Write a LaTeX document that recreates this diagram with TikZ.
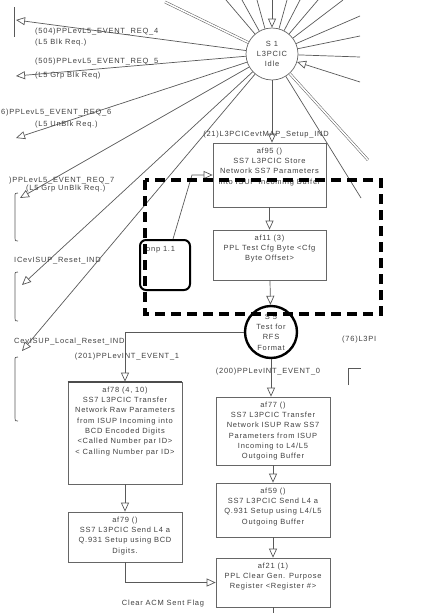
\documentclass[tikz,border=0pt]{standalone}
\usepackage{fontspec}
\setmainfont[LetterSpace=10]{Liberation Sans}
\usetikzlibrary{
  arrows.meta,   % open triangle tips
  positioning,   % text inside boxes
  calc
}
\newcommand{\dfont}{\fontsize{7.5}{10.3}\selectfont}
\tikzset{
  flow/.style={
    draw=black!65,
    line width=0.7pt
  },
  tri/.style={
    flow,
    -{Triangle[length=9pt, width=8pt, fill=white]}
  },
  state/.style={
    circle,
    draw=black!60,
    line width=0.7pt,
    minimum size=52pt,
    inner sep=0pt,
    align=center,
    font=\dfont,
    text=black!75
  },
  bold state/.style={
    state,
    draw=black,
    line width=2.4pt
  },
  actbox/.style={
    draw=black!60,
    line width=0.7pt,
    minimum width=113pt,
    inner sep=0pt
  },
  boxtext/.style={
    align=center,
    font=\dfont,
    text=black!75,
    inner sep=0pt
  },
  lbl/.style={
    font=\dfont,
    text=black!75,
    inner sep=0pt
  },
  notebox/.style={
    draw=black,
    line width=2pt,
    rounded corners=6pt,
    minimum width=50pt,
    minimum height=50pt
  },
  dashbox/.style={
    draw=black,
    line width=3.5pt,
    dash pattern=on 10pt off 6pt
  }
}

\begin{document}
\begin{tikzpicture}[x=1pt, y=-1pt]
    \useasboundingbox (0,0) rectangle (426,613);

    % --- states ---
    \node[state] (S1) at (272,54) {S 1\\L3PCIC\\Idle};
    \node[bold state] (S5) at (271,332) {S 5\\Test for\\RFS\\Format};

    % --- action boxes ---
    \node[actbox, minimum height=64pt] (af95) at (269.5,175) {};
    \node[actbox, minimum height=50pt] (af11) at (269.5,255) {};
    \node[actbox, minimum width=114pt, minimum height=102pt] (af78) at (125,433) {};
    \node[actbox, minimum width=114pt, minimum height=50pt] (af79) at (125,537) {};
    \node[actbox, minimum width=114pt, minimum height=68pt] (af77) at (273,431) {};
    \node[actbox, minimum width=114pt, minimum height=54pt] (af59) at (273,510) {};
    \node[actbox, minimum width=114pt, minimum height=49pt] (af21) at (273,582.5) {};
    \draw[black!70, line width=2pt] (af78.north west) -- (af78.north east);

    \node[boxtext, below=5pt of af95.north] (af95t)
      {af95 ()\\SS7 L3PCIC Store\\Network SS7 Parameters\\into ISUP Incoming Buffer};
    \node[boxtext, below=5pt of af11.north] (af11t)
      {af11 (3)\\PPL Test Cfg Byte <Cfg\\Byte Offset>};
    \node[boxtext, below=5pt of af78.north] (af78t)
      {af78 (4, 10)\\SS7 L3PCIC Transfer\\Network Raw Parameters\\from ISUP Incoming into\\BCD Encoded Digits\\<Called Number par ID>\\< Calling Number par ID>};
    \node[boxtext, below=5pt of af79.north] (af79t)
      {af79 ()\\SS7 L3PCIC Send L4 a\\Q.931 Setup using BCD\\Digits.};
    \node[boxtext, below=5pt of af77.north] (af77t)
      {af77 ()\\SS7 L3PCIC Transfer\\Network ISUP Raw SS7\\Parameters from ISUP\\Incoming to L4/L5\\Outgoing Buffer};
    \node[boxtext, below=5pt of af59.north] (af59t)
      {af59 ()\\SS7 L3PCIC Send L4 a\\Q.931 Setup using L4/L5\\Outgoing Buffer};
    \node[boxtext, below=5pt of af21.north] (af21t)
      {af21 (1)\\PPL Clear Gen. Purpose\\Register <Register \#>};

    % --- note box ---
    \node[notebox] (onp) at (165,265) {};
    \node[lbl, below right=7pt and 7pt of onp.north west] (onpt) {onp 1.1};

    % --- lines radiating from S 1 ---
    \foreach \x/\y in {226/0, 242/0, 257/0, 287/0, 300/0, 318/0, 343/0,
                       360/16, 360/36, 360/57, 361/198}
      \draw[flow] (S1) -- (\x,\y);
    \draw[flow, double=white, double distance=1.6pt, line width=0.5pt] (S1) -- (165,2);
    \draw[flow, double=white, double distance=1.6pt, line width=0.5pt] (S1) -- (368,160);

    % incoming arrows on S 1
    \coordinate (t0) at (272,0);
    \coordinate (r4) at (360,82);
    \draw[tri] (t0) -- (S1);
    \draw[tri] (r4) -- (S1);

    % outgoing events to the left
    \coordinate (e1) at (16,20);
    \coordinate (e2) at (16,76);
    \coordinate (e3) at (16,138);
    \coordinate (e4) at (20,198);
    \coordinate (e5) at (22,285);
    \coordinate (e6) at (22,351);
    \foreach \e in {e1,e2,e3,e4,e5,e6}
      \draw[tri] (S1) -- (\e);

    % bars and brackets on the left edge
    \draw[flow] (14,7) -- (14,37);
    \draw[flow] (18,193) .. controls (15,193) .. (15,197) -- (15,238) .. controls (15,241) .. (18,241);
    \draw[flow] (18,272) .. controls (15,272) .. (15,276) -- (15,318) .. controls (15,321) .. (18,321);
    \draw[flow] (18,357) .. controls (15,357) .. (15,361) -- (15,418) .. controls (15,421) .. (18,421);

    % event labels
    \node[lbl, anchor=west] (l504) at (35,32) {(504)PPLevL5\_EVENT\_REQ\_4};
    \node[lbl, anchor=west] (l504b) at (35,43) {(L5 Blk Req.)};
    \node[lbl, anchor=west] (l505) at (35,62) {(505)PPLevL5\_EVENT\_REQ\_5};
    \node[lbl, anchor=west] (l505b) at (35,76) {(L5 Grp Blk Req)};
    \node[lbl, anchor=west] (l506) at (1,113) {6)PPLevL5\_EVENT\_REQ\_6};
    \node[lbl, anchor=west] (l506b) at (35,125) {(L5 UnBlk Req.)};
    \node[lbl, anchor=west] (l507) at (9,181) {)PPLevL5\_EVENT\_REQ\_7};
    \node[lbl, anchor=west] (l507b) at (26,189) {(L5 Grp UnBlk Req.)};
    \node[lbl, anchor=west] (lrst) at (14,261) {ICevISUP\_Reset\_IND};
    \node[lbl, anchor=west] (llrst) at (14,342) {CevISUP\_Local\_Reset\_IND};

    % --- main flow ---
    \draw[tri] (S1.south) -- (S1.south |- af95.north);
    \node[lbl] (l21) at (266,135) {(21)L3PCICevtMAP\_Setup\_IND};
    \draw[tri] (af95) -- (af11);
    \draw[tri] (af11) -- (S5);

    \draw[tri] (S5.west) -| (af78.north);
    \node[lbl] (l201) at (127,357) {(201)PPLevINT\_EVENT\_1};
    \draw[tri] (af78) -- (af79);
    \draw[tri] (af79.south) |- (af21.west);
    \node[lbl] (lclr) at (163,604) {Clear ACM Sent Flag};

    \draw[tri] (S5.south) -- (S5.south |- af77.north);
    \node[lbl] (l200) at (268,372) {(200)PPLevINT\_EVENT\_0};
    \draw[tri] (af77) -- (af59);
    \draw[tri] (af59) -- (af21);
    \coordinate (bot) at (273,613);
    \draw[flow] (af21.south) -- (bot);

    % note connector
    \coordinate (onpbend) at (192,175);
    \draw[tri] ([xshift=8pt]onp.north) -- (onpbend) -- (af95.west);

    % right side fragment
    \node[lbl, anchor=west] (l76) at (342,340) {(76)L3PI};
    \draw[flow] (348,385) -- (348,368) -- (361,368);

    % --- dashed group ---
    \draw[dashbox] (145,180) rectangle (381,314);
\end{tikzpicture}
\end{document}
